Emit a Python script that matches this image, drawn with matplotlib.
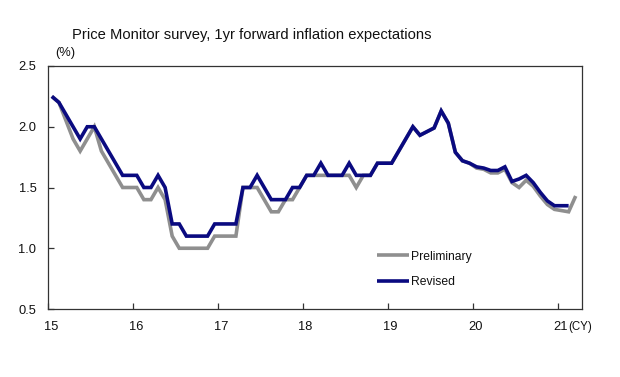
import numpy as np
import matplotlib
matplotlib.use("Agg")
import matplotlib.pyplot as plt
from matplotlib.transforms import ScaledTranslation

plt.rcParams['font.family'] = ['Liberation Sans', 'DejaVu Sans']

title = "Price Monitor survey, 1yr forward inflation expectations"
unit_label = "(%)"
x_unit = "(CY)"

start_year = 2015
year_ticks = [2015, 2016, 2017, 2018, 2019, 2020, 2021]
year_labels = ["15", "16", "17", "18", "19", "20", "21"]
y_ticks = [0.5, 1.0, 1.5, 2.0, 2.5]

# monthly values from Jan 2015
preliminary = [
    2.25, 2.20, 2.05, 1.90, 1.80, 1.90, 2.00, 1.80, 1.70, 1.60, 1.50, 1.50,   # 2015
    1.50, 1.40, 1.40, 1.50, 1.40, 1.10, 1.00, 1.00, 1.00, 1.00, 1.00, 1.10,   # 2016
    1.10, 1.10, 1.10, 1.50, 1.50, 1.50, 1.40, 1.30, 1.30, 1.40, 1.40, 1.50,   # 2017
    1.60, 1.60, 1.60, 1.60, 1.60, 1.60, 1.60, 1.50, 1.60, 1.60, 1.70, 1.70,   # 2018
    1.70, 1.80, 1.90, 2.00, 1.93, 1.96, 1.99, 2.13, 2.03, 1.79, 1.72, 1.70,   # 2019
    1.66, 1.65, 1.62, 1.62, 1.65, 1.54, 1.50, 1.56, 1.51, 1.43, 1.36, 1.32,   # 2020
    1.31, 1.30, 1.43,                                                         # 2021
]
revised = [
    2.25, 2.20, 2.10, 2.00, 1.90, 2.00, 2.00, 1.90, 1.80, 1.70, 1.60, 1.60,   # 2015
    1.60, 1.50, 1.50, 1.60, 1.50, 1.20, 1.20, 1.10, 1.10, 1.10, 1.10, 1.20,   # 2016
    1.20, 1.20, 1.20, 1.50, 1.50, 1.60, 1.50, 1.40, 1.40, 1.40, 1.50, 1.50,   # 2017
    1.60, 1.60, 1.70, 1.60, 1.60, 1.60, 1.70, 1.60, 1.60, 1.60, 1.70, 1.70,   # 2018
    1.70, 1.80, 1.90, 2.00, 1.93, 1.96, 1.99, 2.13, 2.03, 1.79, 1.72, 1.70,   # 2019
    1.67, 1.66, 1.64, 1.64, 1.67, 1.55, 1.57, 1.60, 1.54, 1.46, 1.39, 1.35,   # 2020
    1.35, 1.35,                                                               # 2021
]

x_pre = start_year + (np.arange(len(preliminary)) + 0.5) / 12
x_rev = start_year + (np.arange(len(revised)) + 0.5) / 12

W, H = 620, 377
fig = plt.figure(figsize=(W / 100, H / 100), dpi=100)
L, R, T, B = 48.3, 582.3, 66, 309
ax = fig.add_axes([L / W, 1 - B / H, (R - L) / W, (B - T) / H])

ax.plot(x_pre, preliminary, color="#8f8f8f", lw=2.6, label="Preliminary",
        solid_joinstyle="miter", solid_capstyle="butt")
ax.plot(x_rev, revised, color="#0a0a80", lw=2.6, label="Revised",
        solid_joinstyle="miter", solid_capstyle="butt")

ax.set_xlim(2015, 2021.286)
ax.set_ylim(0.5, 2.5)
ax.set_xticks(year_ticks)
ax.set_xticklabels(year_labels)
ax.set_yticks(y_ticks)
ax.set_yticklabels([f"{v:.1f}" for v in y_ticks])

for s in ax.spines.values():
    s.set_color("#333333")
    s.set_linewidth(0.9)
ax.tick_params(axis="both", direction="in", length=4, width=0.9, color="#333333",
               labelsize=9.3, labelcolor="#111111", pad=9)
ax.tick_params(axis="y", pad=8.5)

offset = ScaledTranslation(2.5 / 100, 0, fig.dpi_scale_trans)
for lab in ax.get_xticklabels():
    lab.set_transform(lab.get_transform() + offset)

leg = ax.legend(loc="upper left", bbox_to_anchor=(0.615, 0.24), frameon=False,
                fontsize=8.7, handlelength=2.65, handletextpad=0.2,
                labelspacing=1.1, borderpad=0, borderaxespad=0)
for t in leg.get_texts():
    t.set_color("#111111")

fig.text(72 / W, 1 - 35 / H, title, fontsize=10.6, color="#111111",
         ha="left", va="center")
fig.text(55 / W, 1 - 53 / H, unit_label, fontsize=9.3, color="#111111",
         ha="left", va="center")
fig.text(568 / W, 1 - 327 / H, x_unit, fontsize=8.3, color="#111111",
         ha="left", va="center")

fig.savefig("out.png", dpi=100, facecolor="white")
